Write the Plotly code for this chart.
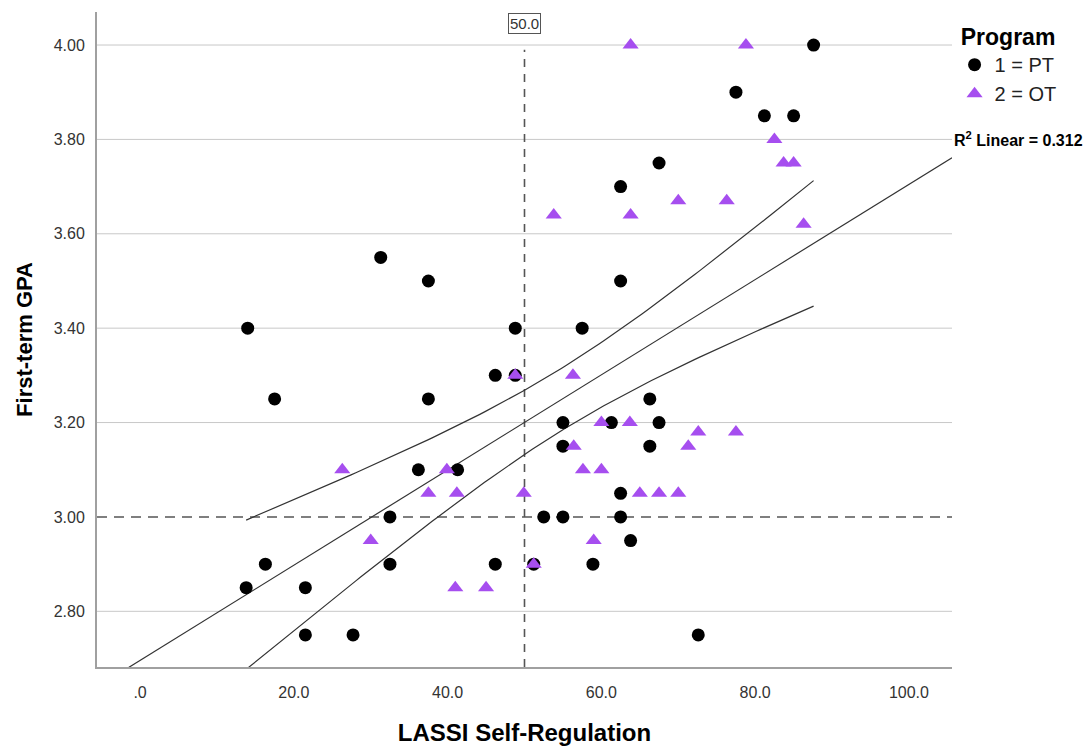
import numpy as np
import plotly.graph_objects as go

# ---------------- data ----------------
pt_x = [14.0, 13.8, 16.3, 17.5, 21.5, 21.5, 27.7, 31.3, 32.5, 32.5,
        36.2, 37.5, 37.5, 41.3, 46.2, 46.2, 48.8, 48.8, 51.2, 52.5,
        55.0, 55.0, 55.0, 57.5, 58.9, 61.3, 62.5, 62.5, 62.5, 62.5,
        63.8, 66.3, 66.3, 67.5, 67.5, 72.6, 77.5, 81.2, 85.0, 87.6]
pt_y = [3.40, 2.85, 2.90, 3.25, 2.85, 2.75, 2.75, 3.55, 3.00, 2.90,
        3.10, 3.50, 3.25, 3.10, 3.30, 2.90, 3.40, 3.30, 2.90, 3.00,
        3.15, 3.20, 3.00, 3.40, 2.90, 3.20, 3.70, 3.50, 3.05, 3.00,
        2.95, 3.25, 3.15, 3.20, 3.75, 2.75, 3.90, 3.85, 3.85, 4.00]

ot_x = [26.3, 30.0, 37.5, 39.9, 41.0, 41.2, 45.0, 48.8, 49.9, 51.2,
        53.8, 56.3, 56.4, 57.6, 59.0, 60.0, 60.0, 63.7, 63.8, 63.8,
        65.0, 67.5, 70.0, 70.0, 71.3, 72.6, 76.3, 77.5, 78.8, 82.5,
        83.7, 85.0, 86.3]
ot_y = [3.10, 2.95, 3.05, 3.10, 2.85, 3.05, 2.85, 3.30, 3.05, 2.90,
        3.64, 3.30, 3.15, 3.10, 2.95, 3.20, 3.10, 3.20, 3.64, 4.00,
        3.05, 3.05, 3.05, 3.67, 3.15, 3.18, 3.67, 3.18, 4.00, 3.80,
        3.75, 3.75, 3.62]

series_names = ["1 = PT", "2 = OT"]
x_ticks = [0, 20, 40, 60, 80, 100]
x_ticktext = [".0", "20.0", "40.0", "60.0", "80.0", "100.0"]
y_ticks = [2.80, 3.00, 3.20, 3.40, 3.60, 3.80, 4.00]
y_ticktext = ["2.80", "3.00", "3.20", "3.40", "3.60", "3.80", "4.00"]
x_range = [-5.6, 105.6]
y_range = [2.682, 4.07]
ref_x = 50.0
ref_y = 3.00
r2_label = "R<sup>2</sup> Linear = 0.312"

# ---------------- linear fit + 95% CI of mean ----------------
xa = np.array(pt_x + ot_x, dtype=float)
ya = np.array(pt_y + ot_y, dtype=float)
n = len(xa)
slope, intercept = np.polyfit(xa, ya, 1)
resid = ya - (intercept + slope * xa)
s = np.sqrt(np.sum(resid ** 2) / (n - 2))
xbar = xa.mean()
sxx = np.sum((xa - xbar) ** 2)
T95 = 1.995

fit_x = np.linspace(x_range[0], x_range[1], 50)
fit_y = intercept + slope * fit_x
ci_x = np.linspace(xa.min(), xa.max(), 120)
ci_c = intercept + slope * ci_x
ci_h = T95 * s * np.sqrt(1.0 / n + (ci_x - xbar) ** 2 / sxx)

PURPLE = "#A64EEF"
LINE = "#333333"
FONT = "Liberation Sans, Arial, sans-serif"

fig = go.Figure()
fig.add_trace(go.Scatter(x=fit_x, y=fit_y, mode="lines",
                         line=dict(color=LINE, width=1.2), showlegend=False, hoverinfo="skip"))
fig.add_trace(go.Scatter(x=ci_x, y=ci_c + ci_h, mode="lines",
                         line=dict(color=LINE, width=1.2), showlegend=False, hoverinfo="skip"))
fig.add_trace(go.Scatter(x=ci_x, y=ci_c - ci_h, mode="lines",
                         line=dict(color=LINE, width=1.2), showlegend=False, hoverinfo="skip"))
fig.add_trace(go.Scatter(x=pt_x, y=pt_y, mode="markers", name=series_names[0],
                         marker=dict(symbol="circle", size=13, color="#000000",
                                     line=dict(width=0))))
fig.add_trace(go.Scatter(x=ot_x, y=ot_y, mode="markers", name=series_names[1],
                         marker=dict(symbol="triangle-up", size=14, color=PURPLE,
                                     line=dict(width=0))))

# gridlines (all tick levels except the reference line level)
for gy in y_ticks:
    if abs(gy - ref_y) < 1e-9:
        continue
    fig.add_shape(type="line", xref="paper", yref="y", x0=0, x1=1, y0=gy, y1=gy,
                  line=dict(color="#c8c8c8", width=1), layer="below")

# reference lines
fig.add_shape(type="line", xref="paper", yref="y", x0=0, x1=1, y0=ref_y, y1=ref_y,
              line=dict(color="#555555", width=1.6, dash="10px,7px"), layer="below")
fig.add_shape(type="line", xref="x", yref="y", x0=ref_x, x1=ref_x, y0=y_range[0], y1=3.99,
              line=dict(color="#555555", width=1.6, dash="8px,7px"), layer="below")

fig.add_annotation(x=ref_x, y=4.045, xref="x", yref="y", text="50.0", showarrow=False,
                   font=dict(family=FONT, size=15, color="#333333"),
                   bordercolor="#555555", borderwidth=1, borderpad=1, bgcolor="white")

fig.add_annotation(x=1.0, y=3.80, xref="paper", yref="y", text="<b>" + r2_label + "</b>",
                   showarrow=False, xanchor="left", yanchor="middle",
                   font=dict(family=FONT, size=16, color="#000000"))

fig.update_layout(
    width=1091, height=747,
    margin=dict(l=97, r=139, t=12, b=80, autoexpand=False),
    paper_bgcolor="white", plot_bgcolor="white",
    font=dict(family=FONT, color="#333333"),
    showlegend=True,
    legend=dict(
        x=1.003, y=0.995, xanchor="left", yanchor="top",
        title=dict(text="<b>Program</b>", side="top center",
                   font=dict(family=FONT, size=23, color="#000000")),
        font=dict(family=FONT, size=20, color="#222222"),
        itemwidth=30, bgcolor="rgba(0,0,0,0)", tracegroupgap=0,
    ),
    xaxis=dict(
        range=x_range, tickvals=x_ticks, ticktext=x_ticktext,
        showgrid=False, zeroline=False,
        showline=True, linecolor="#a0a0a0", linewidth=2,
        ticks="outside", ticklen=10, tickcolor="rgba(0,0,0,0)",
        tickfont=dict(family=FONT, size=16, color="#333333"),
        title=dict(text="LASSI Self-Regulation", standoff=24,
                   font=dict(family=FONT, size=24, color="#000000", weight="bold")),
        automargin=False,
    ),
    yaxis=dict(
        range=y_range, tickvals=y_ticks, ticktext=y_ticktext,
        showgrid=False, zeroline=False,
        showline=True, linecolor="#a0a0a0", linewidth=2,
        ticks="outside", ticklen=7, tickcolor="rgba(0,0,0,0)",
        tickfont=dict(family=FONT, size=16, color="#333333"),
        title=dict(text="First-term GPA", standoff=15,
                   font=dict(family=FONT, size=22, color="#000000", weight="bold")),
        automargin=False,
    ),
)

fig.write_html("out.html")
